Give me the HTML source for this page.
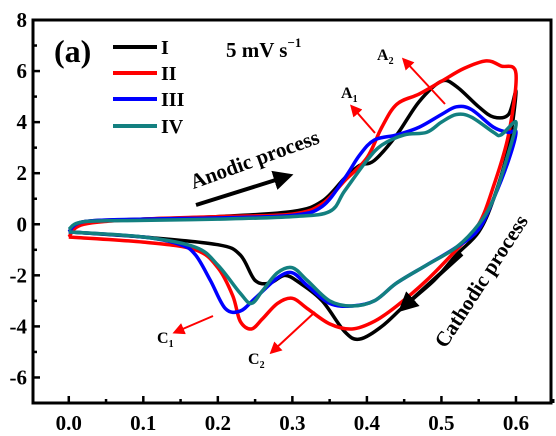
<!DOCTYPE html>
<html><head><meta charset="utf-8"><style>
body{margin:0;background:#fff}
svg{display:block}
svg text{font-family:"Times New Roman","Liberation Serif",Times,serif;font-weight:bold}
</style></head><body>
<svg width="556" height="436" viewBox="0 0 556 436">
<g id="plot"></g>
<g id="axes"></g>
<g>
<line x1="113" y1="47" x2="157" y2="47" stroke="#000" stroke-width="4"/>
<text x="161" y="54" font-size="20">I</text>
<line x1="113" y1="73" x2="157" y2="73" stroke="#ff0000" stroke-width="4"/>
<text x="161" y="80" font-size="20">II</text>
<line x1="113" y1="99" x2="157" y2="99" stroke="#0000ff" stroke-width="4"/>
<text x="161" y="106" font-size="20">III</text>
<line x1="113" y1="126" x2="157" y2="126" stroke="#138080" stroke-width="4"/>
<text x="161" y="133" font-size="20">IV</text>
</g>
<text x="54" y="62" font-size="32">(a)</text>
<text x="226" y="57" font-size="21">5 mV s<tspan dy="-10" font-size="13">−1</tspan></text>
<defs>
<marker id="ar" markerWidth="6" markerHeight="6" refX="3" refY="3" orient="auto"><path d="M0,0L6,3L0,6z" fill="#ff0000"/></marker>
<marker id="ab" markerWidth="5" markerHeight="5" refX="2" refY="2.5" orient="auto"><path d="M0,0L5,2.5L0,5z" fill="#000"/></marker>
</defs>
<g>
<line x1="375" y1="133" x2="354" y2="109" stroke="#ff0000" stroke-width="2" marker-end="url(#ar)"/>
<text x="341" y="98" font-size="16">A<tspan dy="4" font-size="10">1</tspan></text>
<line x1="445" y1="104" x2="406" y2="62" stroke="#ff0000" stroke-width="2" marker-end="url(#ar)"/>
<text x="377" y="60" font-size="16">A<tspan dy="4" font-size="10">2</tspan></text>
<line x1="213" y1="316" x2="178" y2="331" stroke="#ff0000" stroke-width="2" marker-end="url(#ar)"/>
<text x="157" y="343" font-size="16">C<tspan dy="4" font-size="10">1</tspan></text>
<line x1="315" y1="312" x2="274" y2="350" stroke="#ff0000" stroke-width="2" marker-end="url(#ar)"/>
<text x="248" y="364" font-size="16">C<tspan dy="4" font-size="10">2</tspan></text>
<line x1="196" y1="205" x2="282" y2="178" stroke="#000" stroke-width="4" marker-end="url(#ab)"/>
<text transform="translate(257,166) rotate(-20)" text-anchor="middle" font-size="21">Anodic process</text>
<line x1="462" y1="254" x2="407" y2="304" stroke="#000" stroke-width="4" marker-end="url(#ab)"/>
<text transform="translate(487,285) rotate(-57)" text-anchor="middle" font-size="21">Cathodic process</text>
</g>
</svg>
<script>
const seriesNames=['I','II','III','IV'];
const seriesColors=['#000000','#ff0000','#0000ff','#138080'];
const potI=[0,0.02,0.1,0.2,0.3,0.34,0.37,0.39,0.41,0.44,0.47,0.5,0.52,0.55,0.57,0.59,0.6,0.59,0.57,0.55,0.52,0.49,0.45,0.42,0.39,0.37,0.34,0.31,0.29,0.27,0.25,0.23,0.2,0.1,0];
const curI=[-0.3,0.1,0.2,0.3,0.5,0.9,1.8,2.3,2.5,3.5,4.8,5.6,5.4,4.6,4.2,4.3,5.2,3.0,1.0,-0.3,-1.2,-2.2,-3.2,-4.0,-4.5,-4.2,-3.0,-2.3,-2.0,-2.3,-2.2,-1.2,-0.8,-0.5,-0.3];
const potII=[0,0.02,0.1,0.2,0.3,0.34,0.37,0.4,0.42,0.44,0.47,0.5,0.53,0.56,0.58,0.6,0.59,0.57,0.55,0.52,0.48,0.44,0.41,0.38,0.35,0.32,0.3,0.28,0.26,0.245,0.23,0.22,0.2,0.17,0.1,0];
const curII=[-0.5,0,0.2,0.3,0.4,0.8,1.7,2.6,3.8,4.7,5.1,5.6,6.1,6.4,6.2,5.9,3.5,1.5,0,-1.0,-2.2,-3.2,-3.8,-4.1,-3.9,-3.3,-2.9,-3.1,-3.7,-4.1,-3.8,-2.8,-1.7,-1.0,-0.7,-0.5];
const potIII=[0,0.02,0.1,0.2,0.3,0.34,0.37,0.39,0.41,0.44,0.47,0.5,0.52,0.54,0.57,0.59,0.6,0.59,0.57,0.55,0.52,0.48,0.44,0.41,0.38,0.35,0.32,0.3,0.28,0.25,0.23,0.21,0.19,0.17,0.15,0.1,0];
const curIII=[-0.3,0.1,0.2,0.25,0.35,0.7,1.8,2.7,3.3,3.5,3.8,4.3,4.6,4.5,3.8,3.6,3.6,2.5,1.0,-0.2,-0.9,-1.6,-2.3,-3.0,-3.2,-3.1,-2.4,-1.9,-2.1,-2.9,-3.4,-3.3,-2.2,-1.2,-0.8,-0.5,-0.3];
const potIV=[0,0.02,0.1,0.2,0.3,0.35,0.37,0.4,0.42,0.45,0.48,0.5,0.52,0.54,0.57,0.58,0.6,0.59,0.57,0.55,0.52,0.48,0.44,0.41,0.38,0.35,0.32,0.3,0.28,0.26,0.245,0.23,0.2,0.17,0.1,0];
const curIV=[-0.2,0.1,0.15,0.2,0.3,0.5,1.3,2.5,3.1,3.5,3.6,4.0,4.3,4.2,3.6,3.5,4.0,2.8,1.0,0,-0.9,-1.6,-2.3,-3.0,-3.2,-3.0,-2.2,-1.7,-1.9,-2.6,-3.1,-2.7,-1.6,-0.9,-0.5,-0.3];
const xTicks=['0.0','0.1','0.2','0.3','0.4','0.5','0.6'];
const yTicks=['-6','-4','-2','0','2','4','6','8'];
const X0=33,X1=551,Y0=20,Y1=403;
const xMin=-0.048,xMax=0.647,yMin=-7,yMax=8;
const sx=v=>X0+(v-xMin)/(xMax-xMin)*(X1-X0);
const sy=v=>Y1-(v-yMin)/(yMax-yMin)*(Y1-Y0);
const NS='http://www.w3.org/2000/svg';
const plot=document.getElementById('plot'),axes=document.getElementById('axes');
function smooth(p){let d='M'+p[0][0]+','+p[0][1];for(let i=0;i<p.length-1;i++){const a=p[i-1]||p[i],b=p[i],c=p[i+1],e=p[i+2]||c;d+='C'+(b[0]+(c[0]-a[0])/6)+','+(b[1]+(c[1]-a[1])/6)+' '+(c[0]-(e[0]-b[0])/6)+','+(c[1]-(e[1]-b[1])/6)+' '+c[0]+','+c[1];}return d;}
const pots=[potI,potII,potIII,potIV],curs=[curI,curII,curIII,curIV];
pots.forEach((P,k)=>{
 const pts=P.map((v,i)=>[sx(v),sy(curs[k][i])]);
 const path=document.createElementNS(NS,'path');
 path.setAttribute('d',smooth(pts));
 path.setAttribute('fill','none');path.setAttribute('stroke',seriesColors[k]);path.setAttribute('stroke-width','3.5');path.setAttribute('stroke-linejoin','round');
 
 
 plot.appendChild(path);
});
const fr=document.createElementNS(NS,'rect');
fr.setAttribute('x',X0);fr.setAttribute('y',Y0);fr.setAttribute('width',X1-X0);fr.setAttribute('height',Y1-Y0);
fr.setAttribute('fill','none');fr.setAttribute('stroke','#000');fr.setAttribute('stroke-width','3');


axes.appendChild(fr);
function ln(x1,y1,x2,y2,name){const l=document.createElementNS(NS,'line');l.setAttribute('x1',x1);l.setAttribute('y1',y1);l.setAttribute('x2',x2);l.setAttribute('y2',y2);l.setAttribute('stroke','#000');l.setAttribute('stroke-width','2.5');


axes.appendChild(l);}
function tx(x,y,s,anchor,name){const t=document.createElementNS(NS,'text');t.setAttribute('x',x);t.setAttribute('y',y);t.setAttribute('font-size','21');t.setAttribute('text-anchor',anchor);t.textContent=s;


axes.appendChild(t);}
xTicks.forEach(s=>{const v=parseFloat(s);ln(sx(v),Y1,sx(v),Y1-7,'x-tick');tx(sx(v),Y1+27,s,'middle','x-tick-label');ln(sx(v+0.05),Y1,sx(v+0.05),Y1-4,'x-minor-tick');});
yTicks.forEach(s=>{const v=parseFloat(s);ln(X0,sy(v),X0+7,sy(v),'y-tick');tx(X0-6,sy(v)+7,s,'end','y-tick-label');ln(X0,sy(v-1),X0+4,sy(v-1),'y-minor-tick');});
</script>
</body></html>
